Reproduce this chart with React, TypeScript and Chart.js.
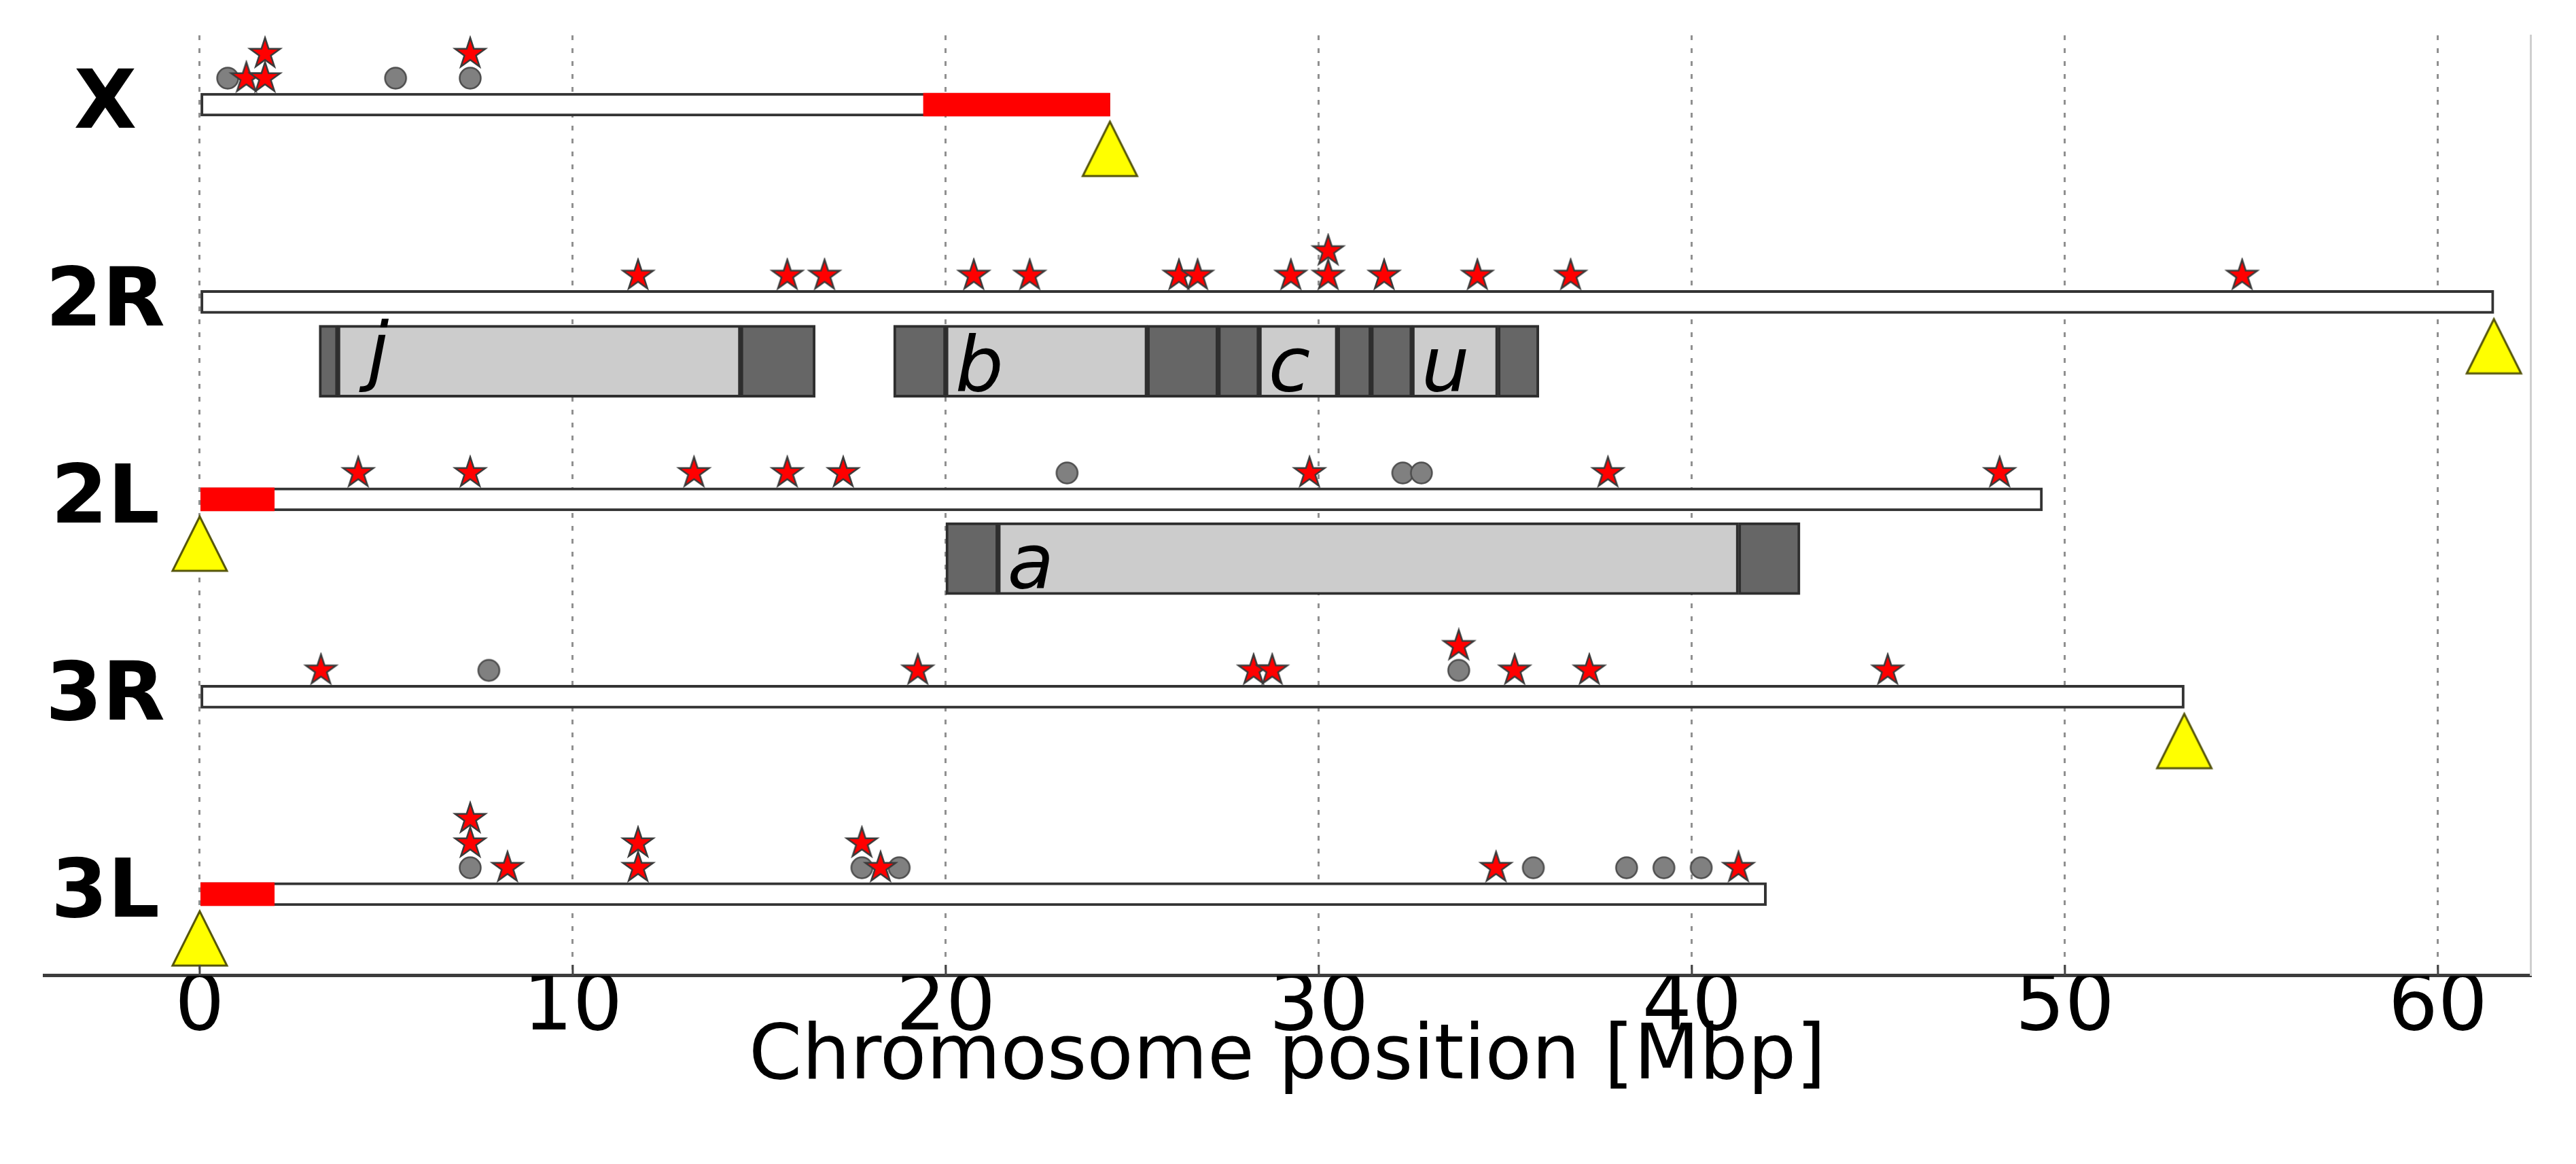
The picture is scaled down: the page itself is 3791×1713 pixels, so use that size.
import React, { useEffect, useRef } from 'react';
import { Chart, registerables } from 'chart.js';

Chart.register(...registerables);

// ---------------- data ----------------
const CHROMOSOMES = ['X', '2R', '2L', '3R', '3L'];
const CHROM_ROW = [4, 3, 2, 1, 0];
const CHROM_LENGTH = [24.4, 61.5, 49.4, 53.2, 42.0];
const HETERO_START: (number | null)[] = [19.4, null, 0, null, 0];
const HETERO_END: (number | null)[] = [24.4, null, 2.0, null, 2.0];
const CENTROMERE = [24.4, 61.5, 0, 53.2, 0];

const STARS_X = [1.25, 1.75, 1.75, 7.25];
const CIRCLES_X = [0.75, 5.25, 7.25];
const STARS_2R = [11.75, 15.75, 16.75, 20.75, 22.25, 26.25, 26.75, 29.25, 30.25, 30.25, 31.75, 34.25, 36.75, 54.75];
const CIRCLES_2R: number[] = [];
const STARS_2L = [4.25, 7.25, 13.25, 15.75, 17.25, 29.75, 37.75, 48.25];
const CIRCLES_2L = [23.25, 32.25, 32.75];
const STARS_3R = [3.25, 19.25, 28.25, 28.75, 33.75, 35.25, 37.25, 45.25];
const CIRCLES_3R = [7.75, 33.75];
const STARS_3L = [7.25, 7.25, 8.25, 11.75, 11.75, 17.75, 18.25, 34.75, 41.25];
const CIRCLES_3L = [7.25, 17.75, 18.75, 35.75, 38.25, 39.25, 40.25];
const STARS_BY_ARM = [STARS_X, STARS_2R, STARS_2L, STARS_3R, STARS_3L];
const CIRCLES_BY_ARM = [CIRCLES_X, CIRCLES_2R, CIRCLES_2L, CIRCLES_3R, CIRCLES_3L];

const INV_NAMES = ['j', 'b', 'c', 'u', 'a'];
const INV_ARM = ['2R', '2R', '2R', '2R', '2L'];
const INV_PROX_START = [3.2, 18.6, 27.3, 31.4, 20.0];
const INV_PROX_END = [3.7, 20.0, 28.4, 32.5, 21.4];
const INV_DIST_START = [14.5, 25.4, 30.5, 34.8, 41.25];
const INV_DIST_END = [16.5, 27.3, 31.4, 35.9, 42.9];
const INV_LABEL_X = [4.5, 20.25, 28.65, 32.75, 21.65];

const X_TICKS = [0, 10, 20, 30, 40, 50, 60];
const X_TITLE = 'Chromosome position [Mbp]';

// ---------------- layout / style ----------------
const W = 3791;
const H = 1713;
const X_MIN = -4.17;
const X_MAX = 62.48;
const Y_MIN = -0.413;
const Y_MAX = 4.351;
const MARK_ROW0 = 0.134;
const MARK_STEP = 0.124;
const TRI_OFFSET = -0.224;
const INV_OFFSET = -0.30;
const LABEL_X = -2.53;
const LABEL_RAISE = 10;
const ARM_THICK = 34;
const INV_THICK = 106;
const FONT = '"DejaVu Sans", sans-serif';

function makeStar(): HTMLCanvasElement {
  const R = 23.5;
  const r = R * 0.381966;
  const lw = 2.5;
  const s = 54;
  const c = document.createElement('canvas');
  c.width = s;
  c.height = s;
  const g = c.getContext('2d')!;
  const cx = s / 2;
  const cy = s / 2;
  g.beginPath();
  for (let i = 0; i < 10; i++) {
    const rad = i % 2 === 0 ? R : r;
    const a = -Math.PI / 2 + (i * Math.PI) / 5;
    const px = cx + rad * Math.cos(a);
    const py = cy + rad * Math.sin(a);
    if (i === 0) g.moveTo(px, py);
    else g.lineTo(px, py);
  }
  g.closePath();
  g.fillStyle = '#ff0000';
  g.fill();
  g.lineWidth = lw;
  g.lineJoin = 'miter';
  g.strokeStyle = '#3a3a3a';
  g.stroke();
  return c;
}

function makeCircle(): HTMLCanvasElement {
  const s = 38;
  const c = document.createElement('canvas');
  c.width = s;
  c.height = s;
  const g = c.getContext('2d')!;
  g.beginPath();
  g.arc(s / 2, s / 2, 15.5, 0, Math.PI * 2);
  g.fillStyle = '#808080';
  g.fill();
  g.lineWidth = 2.5;
  g.strokeStyle = '#4d4d4d';
  g.stroke();
  return c;
}

function makeTriangle(): HTMLCanvasElement {
  const s = 90;
  const c = document.createElement('canvas');
  c.width = s;
  c.height = s;
  const g = c.getContext('2d')!;
  const cx = s / 2;
  const cy = s / 2;
  g.beginPath();
  g.moveTo(cx, cy - 40);
  g.lineTo(cx - 40, cy + 40);
  g.lineTo(cx + 40, cy + 40);
  g.closePath();
  g.fillStyle = '#ffff00';
  g.fill();
  g.lineWidth = 3;
  g.lineJoin = 'miter';
  g.strokeStyle = '#55550a';
  g.stroke();
  return c;
}

function stackedMarkers() {
  const stars: { x: number; y: number }[] = [];
  const circles: { x: number; y: number }[] = [];
  CHROMOSOMES.forEach((_, i) => {
    const count = new Map<number, number>();
    const place = (x: number) => {
      const k = count.get(x) ?? 0;
      count.set(x, k + 1);
      return { x, y: CHROM_ROW[i] + MARK_ROW0 + k * MARK_STEP };
    };
    CIRCLES_BY_ARM[i].forEach((x) => circles.push(place(x)));
    STARS_BY_ARM[i].forEach((x) => stars.push(place(x)));
  });
  return { stars, circles };
}

const labelPlugin = {
  id: 'chromLabels',
  afterDatasetsDraw(chart: any) {
    const { ctx, scales, chartArea } = chart;
    const xs = scales.x;
    const ys = scales.y;
    ctx.save();
    // inward tick marks on the bottom axis
    ctx.strokeStyle = '#444444';
    ctx.lineWidth = 3;
    X_TICKS.forEach((v) => {
      const px = xs.getPixelForValue(v);
      ctx.beginPath();
      ctx.moveTo(px, chartArea.bottom);
      ctx.lineTo(px, chartArea.bottom - 16);
      ctx.stroke();
    });
    // chromosome arm names
    ctx.fillStyle = '#000000';
    ctx.font = `bold 120px ${FONT}`;
    ctx.textAlign = 'center';
    ctx.textBaseline = 'alphabetic';
    CHROMOSOMES.forEach((name, i) => {
      const m = ctx.measureText(name);
      const cx = xs.getPixelForValue(LABEL_X);
      const cy = ys.getPixelForValue(CHROM_ROW[i]) - LABEL_RAISE;
      ctx.fillText(name, cx, cy + (m.actualBoundingBoxAscent - m.actualBoundingBoxDescent) / 2);
    });
    // inversion names
    ctx.font = `italic 112px ${FONT}`;
    ctx.textAlign = 'left';
    INV_NAMES.forEach((name, i) => {
      const row = CHROM_ROW[CHROMOSOMES.indexOf(INV_ARM[i])] + INV_OFFSET;
      const bottom = ys.getPixelForValue(row) + INV_THICK / 2 - 8;
      const m = ctx.measureText(name);
      ctx.fillText(name, xs.getPixelForValue(INV_LABEL_X[i]), bottom - m.actualBoundingBoxDescent);
    });
    ctx.restore();
  },
};

export default function App() {
  const ref = useRef<HTMLCanvasElement | null>(null);

  useEffect(() => {
    if (!ref.current) return;
    const { stars, circles } = stackedMarkers();

    const armData = CHROMOSOMES.map((_, i) => ({ x: [0, CHROM_LENGTH[i]], y: CHROM_ROW[i] }));
    const heteroData = CHROMOSOMES.map((_, i) =>
      HETERO_START[i] === null ? null : { x: [HETERO_START[i], HETERO_END[i]], y: CHROM_ROW[i] }
    ).filter(Boolean);
    const invRow = (i: number) => CHROM_ROW[CHROMOSOMES.indexOf(INV_ARM[i])] + INV_OFFSET;
    const bpData: any[] = [];
    const innerData: any[] = [];
    INV_NAMES.forEach((_, i) => {
      bpData.push({ x: [INV_PROX_START[i], INV_PROX_END[i]], y: invRow(i) });
      bpData.push({ x: [INV_DIST_START[i], INV_DIST_END[i]], y: invRow(i) });
      innerData.push({ x: [INV_PROX_END[i], INV_DIST_START[i]], y: invRow(i) });
    });
    const triData = CHROMOSOMES.map((_, i) => ({ x: CENTROMERE[i], y: CHROM_ROW[i] + TRI_OFFSET }));

    const barCommon = {
      type: 'bar' as const,
      indexAxis: 'y' as const,
      grouped: false,
      borderSkipped: false,
      clip: false as const,
    };

    const chart = new Chart(ref.current, {
      type: 'bar',
      data: {
        datasets: [
          { ...barCommon, label: 'arms', data: armData as any, backgroundColor: '#ffffff', borderColor: '#333333', borderWidth: 4, barThickness: ARM_THICK, order: 6 },
          { ...barCommon, label: 'heterochromatin', data: heteroData as any, backgroundColor: '#ff0000', borderWidth: 0, barThickness: ARM_THICK, order: 5 },
          { ...barCommon, label: 'inversion', data: innerData as any, backgroundColor: '#cccccc', borderColor: '#2e2e2e', borderWidth: 4, barThickness: INV_THICK, order: 7 },
          { ...barCommon, label: 'breakpoint', data: bpData as any, backgroundColor: '#666666', borderColor: '#2e2e2e', borderWidth: 4, barThickness: INV_THICK, order: 7 },
          { type: 'scatter', label: 'centromere', data: triData, pointStyle: makeTriangle() as any, pointRadius: 40, clip: false as any, order: 4 } as any,
          { type: 'scatter', label: 'circles', data: circles, pointStyle: makeCircle() as any, pointRadius: 16, clip: false as any, order: 3 } as any,
          { type: 'scatter', label: 'stars', data: stars, pointStyle: makeStar() as any, pointRadius: 23, clip: false as any, order: 2 } as any,
        ],
      },
      options: {
        animation: false,
        responsive: true,
        maintainAspectRatio: false,
        devicePixelRatio: 1,
        events: [],
        layout: { padding: { left: 65, right: 67, top: 52, bottom: 0 } },
        plugins: { legend: { display: false }, tooltip: { enabled: false } },
        scales: {
          x: {
            type: 'linear',
            position: 'bottom',
            min: X_MIN,
            max: X_MAX,
            offset: false,
            afterBuildTicks: (s: any) => {
              s.ticks = X_TICKS.map((v) => ({ value: v }));
            },
            ticks: {
              color: '#000000',
              padding: 20,
              font: { family: FONT, size: 115, lineHeight: 0.5 },
              maxRotation: 0,
              autoSkip: false,
            },
            grid: { color: 'rgba(70,70,70,0.6)', lineWidth: 3, drawTicks: false, offset: false },
            border: { display: true, color: '#3c3c3c', width: 5, dash: [7, 12] },
            title: {
              display: true,
              text: X_TITLE,
              color: '#000000',
              font: { family: FONT, size: 112, lineHeight: 0.3 },
              padding: { top: 8, bottom: 138 },
            },
          },
          y: {
            type: 'linear',
            position: 'right',
            min: Y_MIN,
            max: Y_MAX,
            offset: false,
            ticks: { display: false },
            grid: { display: false, drawTicks: false, offset: false },
            border: { display: true, color: '#cfcfcf', width: 3 },
          },
        },
      },
      plugins: [labelPlugin],
    });
    return () => chart.destroy();
  }, []);

  return (
    <div style={{ position: 'absolute', left: 0, top: 0, width: W, height: H, background: '#ffffff' }}>
      <canvas ref={ref} />
    </div>
  );
}
